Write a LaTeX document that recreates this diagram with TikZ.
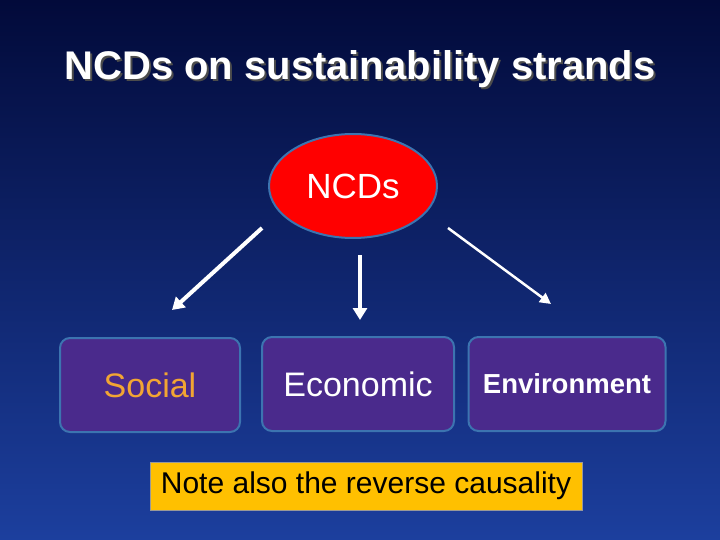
\documentclass[tikz,border=0pt]{standalone}
\usepackage{fontspec}
\setmainfont{Liberation Sans}
\usetikzlibrary{shapes.geometric,arrows.meta}
\definecolor{bgtop}{HTML}{020A3A}
\definecolor{bgbot}{HTML}{1C3F9E}
\definecolor{boxfill}{HTML}{4A2A8C}
\definecolor{boxedge}{HTML}{3C74B0}
\definecolor{soc}{HTML}{F2A533}
\definecolor{notefill}{HTML}{FFC000}
\tikzset{
  strand/.style={draw=boxedge,line width=2pt,fill=boxfill,rounded corners=10pt,minimum height=94pt,font=\fontsize{34}{40}\selectfont,text=white},
  arr/.style={draw=white,line width=4pt,-{Triangle[length=12pt,width=14pt]}},
}
\begin{document}
\begin{tikzpicture}[x=1pt,y=-1pt]
\useasboundingbox (0,0) rectangle (720,540);
\shade[top color=bgtop,bottom color=bgbot] (0,0) rectangle (720,540);
\node[text=black!70] at (362,71) {\fontsize{40}{46}\selectfont\bfseries NCDs on sustainability strands};
\node[text=white] (title) at (360,69) {\fontsize{40}{46}\selectfont\bfseries NCDs on sustainability strands};
\node[ellipse,draw=boxedge,line width=2pt,fill=red,minimum width=168pt,minimum height=104pt,font=\fontsize{35}{40}\selectfont,text=white] (n) at (353,186) {NCDs};
\node[strand,minimum width=180pt,text=soc] (s) at (150,385) {Social};
\node[strand,minimum width=192pt] (e) at (358,384) {Economic};
\node[strand,minimum width=197pt,font=\fontsize{27.5}{32}\selectfont\bfseries] (v) at (567,384) {Environment};
\coordinate (a1) at (262,228); \coordinate (b1) at (172,310);
\coordinate (a2) at (360,255); \coordinate (b2) at (360,320);
\coordinate (a3) at (448,228); \coordinate (b3) at (551,304);
\draw[arr] (a1) -- (b1);
\draw[arr] (a2) -- (b2);
\draw[draw=white,line width=2.5pt,-{Triangle[length=11pt,width=11pt]}] (a3) -- (b3);
\node[draw=black!40,fill=notefill,minimum width=432pt,minimum height=48pt,font=\fontsize{30}{34}\selectfont] (note) at (366,486) {Note also the reverse causality};
\end{tikzpicture}
\end{document}
